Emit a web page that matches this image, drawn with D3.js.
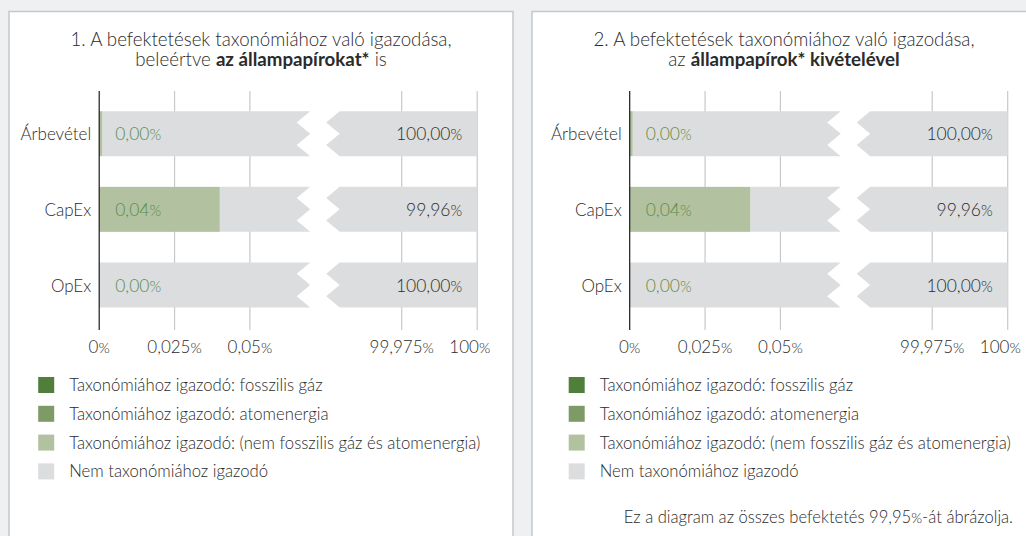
<!DOCTYPE html>
<html>
<head>
<meta charset="utf-8">
<script src="https://cdn.jsdelivr.net/npm/d3@7"></script>
<style>
  html, body { margin: 0; padding: 0; background: #eff0f2; }
  svg { display: block; font-family: Lato, "Open Sans", sans-serif; font-weight: 300; }
</style>
</head>
<body>
<div id="chart"></div>
<script>
const categories = ["Árbevétel", "CapEx", "OpEx"];

// values in percent, same for both panels
const fossilGas = [0, 0, 0];
const nuclear = [0, 0, 0];
const otherAligned = [0.001, 0.04, 0];
const notAligned = [100, 99.96, 100];

const tickValues = [0, 0.025, 0.05, 99.975, 100];
const tickLabels = ["0", "0,025", "0,05", "99,975", "100"];

const legendLabels = [
  "Taxonómiához igazodó: fosszilis gáz",
  "Taxonómiához igazodó: atomenergia",
  "Taxonómiához igazodó: (nem fosszilis gáz és atomenergia)",
  "Nem taxonómiához igazodó"
];
const legendColors = ["#507f3b", "#7f9a67", "#b2c2a0", "#dcdddf"];

const titles = [
  [[{t: "1. A befektetések taxonómiához való igazodása,"}],
   [{t: "beleértve "}, {t: "az állampapírokat*", b: true}, {t: " is"}]],
  [[{t: "2. A befektetések taxonómiához való igazodása,"}],
   [{t: "az "}, {t: "állampapírok* kivételével", b: true}]]
];
const footnote = ["Ez a diagram az összes befektetés 99,95", "%", "-át ábrázolja."];

const width = 1026, height = 536;
const ink = "#2b2b2b";

const svg = d3.select("#chart").append("svg")
    .attr("width", width)
    .attr("height", height);

const locale = d3.formatLocale({decimal: ",", thousands: " ", grouping: [3], currency: ["", ""]});
const fmt = locale.format(".2f");

// broken axis: left part 0..0.07, right part 99.95..100
const xLeft = d3.scaleLinear().domain([0, 0.07]).range([0, 211]);
const xRight = d3.scaleLinear().domain([99.95, 100]).range([227, 378]);
const x = v => v < 50 ? xLeft(v) : xRight(v);

const y = d3.scalePoint().domain(categories).range([133.7, 285]);
const barH = 45, notch = 13.5;

const panels = [
  {px: 9, cx: 99.2, title: titles[0], note: false},
  {px: 532, cx: 629.7, title: titles[1], note: true}
];

const rows = categories.map((c, i) => ({
  cat: c,
  gas: fossilGas[i],
  nuc: nuclear[i],
  other: otherAligned[i],
  rest: notAligned[i]
}));

function addPct(sel, num, pctSize) {
  sel.append("tspan").text(num);
  sel.append("tspan").attr("font-size", pctSize).text("%");
}

panels.forEach(p => {
  svg.append("rect")
      .attr("x", p.px).attr("y", 11.5)
      .attr("width", 504).attr("height", 600)
      .attr("fill", "#fff")
      .attr("stroke", "#c4c7cb")
      .attr("stroke-width", 1.5);

  // title, one text per line
  p.title.forEach((line, li) => {
    const t = svg.append("text")
        .attr("x", p.px + 252)
        .attr("y", 46 + li * 20)
        .attr("text-anchor", "middle")
        .attr("font-size", 18.7)
        .attr("fill", ink);
    line.forEach(part => {
      t.append("tspan").text(part.t)
          .attr("font-weight", part.b ? 700 : 300);
    });
  });

  const g = svg.append("g").attr("transform", `translate(${p.cx},0)`);

  // gridlines
  g.selectAll(".grid")
    .data(tickValues.slice(1))
    .join("line")
      .attr("x1", d => x(d)).attr("x2", d => x(d))
      .attr("y1", 91).attr("y2", 330)
      .attr("stroke", "#c8c8c8")
      .attr("stroke-width", 1.2);

  const bar = g.selectAll(".bar")
    .data(rows)
    .join("g")
      .attr("transform", d => `translate(0,${y(d.cat) - barH / 2})`);

  // left grey piece with zigzag end
  bar.append("path")
      .attr("fill", "#dcdddf")
      .attr("d", d => {
        const x0 = x(d.gas + d.nuc + d.other), xb = x(0.07);
        return `M${x0},0H${xb}L${xb - notch},${barH * 0.25}L${xb},${barH * 0.5}` +
          `L${xb - notch},${barH * 0.75}L${xb},${barH}H${x0}Z`;
      });

  // right grey piece
  bar.append("path")
      .attr("fill", "#dcdddf")
      .attr("d", d => {
        const xs = x(99.95), xe = x(100);
        return `M${xs + notch},0H${xe}V${barH}H${xs + notch}L${xs},${barH * 0.75}` +
          `L${xs + notch},${barH * 0.5}L${xs},${barH * 0.25}Z`;
      });

  // aligned stacks
  const stacks = [["gas", 0], ["nuc", 1], ["other", 2]];
  stacks.forEach(([k, ci]) => {
    bar.append("rect")
        .attr("x", d => x(stacks.slice(0, ci).reduce((s, [kk]) => s + d[kk], 0)))
        .attr("width", d => x(d[k]) - x(0))
        .attr("height", barH)
        .attr("fill", legendColors[ci]);
  });

  bar.append("text")
      .attr("x", 16)
      .attr("y", barH / 2 + 6.5)
      .attr("font-size", 17.5)
      .attr("fill", "#5b8c49")
      .call(t => t.each(function(d) {
        addPct(d3.select(this), fmt(d.gas + d.nuc + d.other), 15);
      }));

  bar.append("text")
      .attr("x", x(100) - 15)
      .attr("y", barH / 2 + 6.5)
      .attr("text-anchor", "end")
      .attr("font-size", 17.5)
      .attr("fill", ink)
      .call(t => t.each(function(d) {
        addPct(d3.select(this), fmt(d.rest), 15);
      }));

  // category labels
  bar.append("text")
      .attr("x", -8)
      .attr("y", barH / 2 + 6.5)
      .attr("text-anchor", "end")
      .attr("font-size", 17)
      .attr("fill", ink)
      .text(d => d.cat);

  // zero axis
  g.append("line")
      .attr("x1", 0).attr("x2", 0)
      .attr("y1", 91).attr("y2", 330)
      .attr("stroke", "#1a1a1a")
      .attr("stroke-width", 1.2);

  // tick labels; the last one is pulled in so it stays inside the panel
  const last = tickValues.length - 1;
  g.selectAll(".tick")
    .data(tickValues)
    .join("text")
      .attr("x", (d, i) => i === last ? x(d) + 13 : x(d))
      .attr("y", 352.5)
      .attr("text-anchor", (d, i) => i === last ? "end" : "middle")
      .attr("font-size", 17)
      .attr("fill", ink)
      .each(function(d, i) { addPct(d3.select(this), tickLabels[i], 14.5); });

  // legend
  const lg = g.selectAll(".leg")
    .data(legendLabels)
    .join("g")
      .attr("transform", (d, i) => `translate(${-61},${377 + i * 28.8})`);
  lg.append("rect")
      .attr("width", 16).attr("height", 16)
      .attr("fill", (d, i) => legendColors[i]);
  lg.append("text")
      .attr("x", 31)
      .attr("y", 14)
      .attr("font-size", 16.7)
      .attr("fill", ink)
      .text(d => d);

  if (p.note) {
    const n = svg.append("text")
        .attr("x", 1013)
        .attr("y", 523)
        .attr("text-anchor", "end")
        .attr("font-size", 16.6)
        .attr("fill", ink);
    n.append("tspan").text(footnote[0]);
    n.append("tspan").attr("font-size", 14).text(footnote[1]);
    n.append("tspan").text(footnote[2]);
  }
});
</script>
</body>
</html>
